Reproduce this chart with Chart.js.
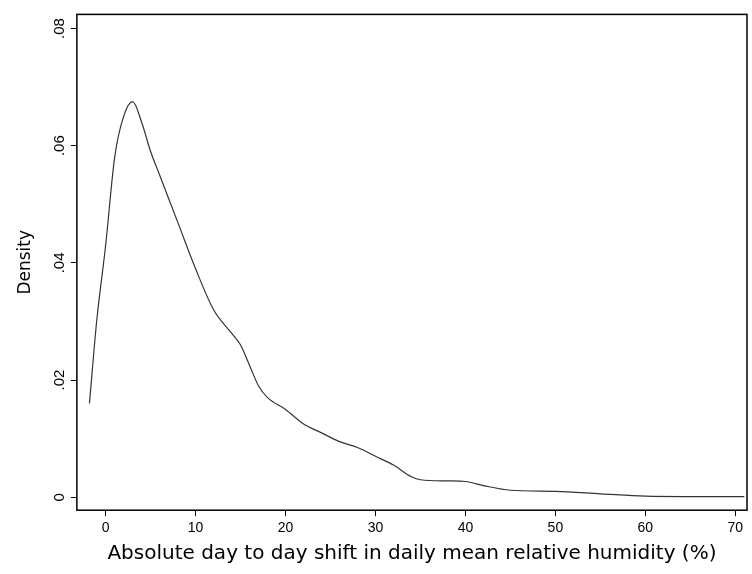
<!DOCTYPE html>
<html><head><script src="https://cdn.jsdelivr.net/npm/chart.js@4"></script>
<style>body{margin:0;background:#fff}#w{width:752px;height:574px}</style></head>
<body><div id="w"><canvas id="c"></canvas></div>
<script>
const xs=[-1.8,-1,0,1,2,3,4,5,6,7,8,10,12,14,15,16,17,18,20,22,24,26,28,30,32,34,35,38,40,42,45,50,55,60,70,71];
const ys=[.016,.03,.043,.058,.065,.0675,.064,.059,.055,.051,.047,.039,.032,.028,.026,.0225,.019,.017,.015,.0125,.011,.0095,.0085,.007,.0055,.0035,.003,.0028,.0027,.002,.0012,.001,.0006,.0002,.0001,.0001];
const yTicks=[0,.02,.04,.06,.08];
const yLabels=["0",".02",".04",".06",".08"];
const xTicks=[0,10,20,30,40,50,60,70];
const frame={id:'frame',afterDraw(ch){const a=ch.chartArea,c=ch.ctx;c.save();c.strokeStyle='#000';c.lineWidth=1.5;c.strokeRect(a.left,a.top,a.right-a.left,a.bottom-a.top);
const s=ch.scales.y;c.fillStyle='#000';c.font='15px Arial, "Liberation Sans"';c.textAlign='center';c.textBaseline='bottom';
yTicks.forEach((v,i)=>{const p=s.getPixelForValue(v);c.save();c.translate(a.left-10,p);c.rotate(-Math.PI/2);c.fillText(yLabels[i],0,0);c.restore();});
c.restore();}};
new Chart(document.getElementById('c'),{type:'line',
data:{datasets:[{data:xs.map((x,i)=>({x,y:ys[i]})),borderColor:'#333',borderWidth:1.2,pointRadius:0,cubicInterpolationMode:'monotone',fill:false}]},
options:{responsive:true,maintainAspectRatio:false,animation:false,
layout:{padding:{left:11,right:5,top:6,bottom:4}},
plugins:{legend:{display:false},tooltip:{enabled:false}},
scales:{
x:{type:'linear',min:-3.2,max:71.3,afterBuildTicks:s=>{s.ticks=xTicks.map(v=>({value:v}));},
 grid:{drawOnChartArea:false,tickLength:6,color:'#000'},border:{display:false},
 ticks:{color:'#000',font:{size:14,family:'Arial'},maxRotation:0,padding:4},
 title:{display:true,text:'Absolute day to day shift in daily mean relative humidity (%)',color:'#000',font:{size:20,family:'"DejaVu Sans"'},padding:{top:1}}},
y:{min:-0.0022,max:0.0824,afterBuildTicks:s=>{s.ticks=yTicks.map(v=>({value:v}));},
 grid:{drawOnChartArea:false,tickLength:6,color:'#000'},border:{display:false},
 ticks:{color:'rgba(0,0,0,0)',font:{size:14},padding:6,callback:()=>'.00'},
 title:{display:true,text:'Density',color:'#000',font:{size:17,family:'"DejaVu Sans"'}}}}},
plugins:[frame]});
</script></body></html>
